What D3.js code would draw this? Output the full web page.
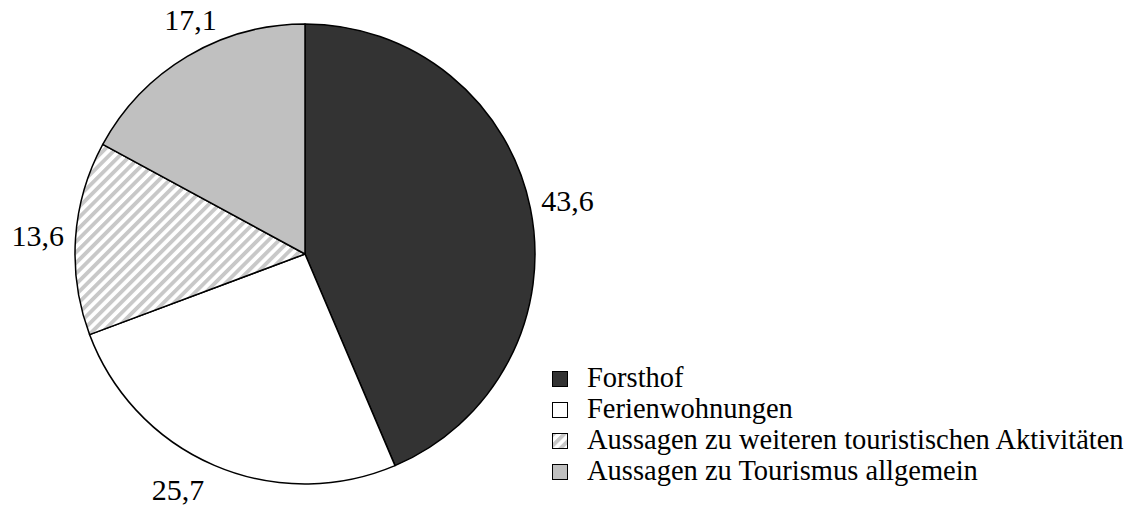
<!DOCTYPE html>
<html>
<head>
<meta charset="utf-8">
<script src="https://cdn.jsdelivr.net/npm/d3@7"></script>
<style>
  body { margin: 0; background: #fff; }
  svg { display: block; font-family: "Liberation Serif", "Times New Roman", serif; }
</style>
</head>
<body>
<div id="chart"></div>
<script>
// data
const categories = ["Forsthof", "Ferienwohnungen", "Aussagen zu weiteren touristischen Aktivitäten", "Aussagen zu Tourismus allgemein"];
const values = [43.6, 25.7, 13.6, 17.1];
const labels = ["43,6", "25,7", "13,6", "17,1"];

const width = 1132, height = 514;
const center = {x: 305, y: 254};
const radius = 230;
const fills = ["#333333", "#ffffff", "url(#hatch)", "#c0c0c0"];

// Excel "best fit" moved some labels; override their angle / radius
const labelOverride = {1: {angle: 208.3, r: 268}, 3: {angle: 334, r: 261}};

const svg = d3.select("#chart")
    .append("svg")
        .attr("width", width)
        .attr("height", height);

const defs = svg.append("defs");
const pat = defs.append("pattern")
    .attr("id", "hatch")
    .attr("patternUnits", "userSpaceOnUse")
    .attr("width", 7.5)
    .attr("height", 7.5)
    .attr("patternTransform", "rotate(45)");
pat.append("rect").attr("width", 7.5).attr("height", 7.5).attr("fill", "#fff");
pat.append("rect").attr("x", 0).attr("width", 3.8).attr("height", 7.5).attr("fill", "#c8c8c8");

const data = categories.map((c, i) => ({name: c, value: values[i], label: labels[i], fill: fills[i], i: i}));

const pie = d3.pie().sort(null).value(d => d.value);
const arc = d3.arc().innerRadius(0).outerRadius(radius);

const g = svg.append("g")
    .attr("transform", `translate(${center.x},${center.y})`);

const arcs = pie(data);

g.selectAll("path")
    .data(arcs)
    .enter().append("path")
        .attr("d", arc)
        .attr("fill", d => d.data.fill)
        .attr("stroke", "#000")
        .attr("stroke-width", 1.5)
        .attr("stroke-linejoin", "round");

function labelPos(d) {
    const o = labelOverride[d.data.i];
    const a = o ? o.angle * Math.PI / 180 : (d.startAngle + d.endAngle) / 2;
    const r = o ? o.r : 268;
    return [r * Math.sin(a), -r * Math.cos(a)];
}

// labels
g.selectAll("text.lbl")
    .data(arcs)
    .enter().append("text")
        .attr("class", "lbl")
        .attr("font-size", 30)
        .attr("text-anchor", "middle")
        .attr("dy", "0.35em")
        .attr("x", d => labelPos(d)[0])
        .attr("y", d => labelPos(d)[1])
        .text(d => d.data.label);

// legend
const legend = svg.append("g")
    .attr("transform", "translate(552,371)")
    .selectAll("g")
    .data(data)
    .enter().append("g")
        .attr("transform", (d, i) => `translate(0,${i * 31})`);

legend.append("rect")
    .attr("x", 0.5)
    .attr("y", 0.5)
    .attr("width", 15)
    .attr("height", 15)
    .attr("fill", d => d.fill)
    .attr("stroke", "#000")
    .attr("stroke-width", 1);

legend.append("text")
    .attr("x", 35)
    .attr("y", 16)
    .attr("font-size", 28.5)
    .text(d => d.name);
</script>
</body>
</html>
